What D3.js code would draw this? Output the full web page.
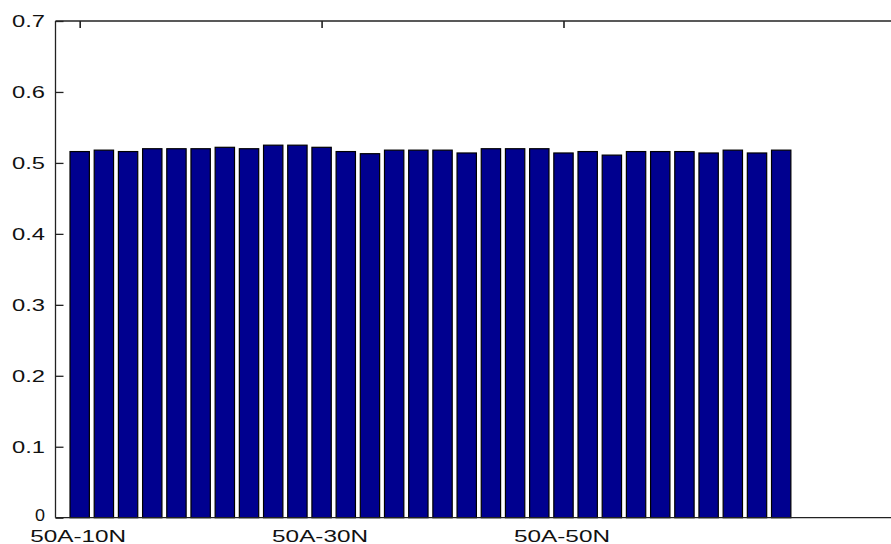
<!DOCTYPE html>
<html>
<head>
<meta charset="utf-8">
<script src="https://cdn.jsdelivr.net/npm/d3@7"></script>
<style>
  html, body { margin: 0; padding: 0; background: #fff; overflow: hidden; }
  svg { display: block; }
  text { font-family: "Liberation Sans", Arial, sans-serif; fill: #111; }
</style>
</head>
<body>
<svg id="chart" width="891" height="544"></svg>
<script>
// Data
const values = [0.516, 0.518, 0.516, 0.520, 0.520, 0.520, 0.522, 0.520, 0.525, 0.525,
                0.522, 0.516, 0.513, 0.518, 0.518, 0.518, 0.514, 0.520, 0.520, 0.520,
                0.514, 0.516, 0.511, 0.516, 0.516, 0.516, 0.514, 0.518, 0.514, 0.518];
const xTickPositions = [1, 11, 21];
const xTickLabels = ["50A-10N", "50A-30N", "50A-50N"];
const yTicks = [0, 0.1, 0.2, 0.3, 0.4, 0.5, 0.6, 0.7];
const yTickLabels = ["0", "0.1", "0.2", "0.3", "0.4", "0.5", "0.6", "0.7"];
const xLimits = [0, 40];
const yLimits = [0, 0.7];

const svg = d3.select("#chart");
const pitch = 24.19;
const plotLeft = 55.5, plotTop = 21, plotBottom = 517.7;
const x = d3.scaleLinear().domain(xLimits).range([plotLeft, plotLeft + (xLimits[1] - xLimits[0]) * pitch]);
const y = d3.scaleLinear().domain(yLimits).range([plotBottom, plotTop]);
const barW = 0.8 * (x(1) - x(0));

// Bars
svg.append("g").selectAll("rect").data(values).join("rect")
  .attr("x", (d, i) => x(i + 1) - barW / 2)
  .attr("y", d => y(d))
  .attr("width", barW)
  .attr("height", d => y(0) - y(d))
  .attr("fill", "#00008f")
  .attr("stroke", "#000")
  .attr("stroke-width", 1.2);

// Axes box (left, top, bottom)
const axisColor = "#222";
const xr = x.range();
svg.append("line").attr("x1", plotLeft).attr("x2", plotLeft).attr("y1", plotTop).attr("y2", plotBottom)
  .attr("stroke", axisColor).attr("stroke-width", 1.3);
svg.append("line").attr("x1", plotLeft).attr("x2", xr[1]).attr("y1", plotTop).attr("y2", plotTop)
  .attr("stroke", axisColor).attr("stroke-width", 1.3);
svg.append("line").attr("x1", plotLeft).attr("x2", xr[1]).attr("y1", plotBottom).attr("y2", plotBottom)
  .attr("stroke", axisColor).attr("stroke-width", 1.3);

// Y axis ticks (inward) and labels
const yAxis = d3.axisRight(y).tickValues(yTicks).tickSize(8).tickFormat("");
const gy = svg.append("g").attr("transform", `translate(${plotLeft},0)`).call(yAxis);
gy.select(".domain").remove();
gy.selectAll(".tick line").attr("stroke", axisColor).attr("stroke-width", 1.3);

svg.append("g").selectAll("text").data(yTicks).join("text")
  .attr("x", 45)
  .attr("y", d => y(d) - (d === 0 ? 2.5 : 0))
  .attr("dy", "0.36em")
  .attr("text-anchor", "end")
  .attr("font-size", d => d === 0 ? 16 : 17)
  .attr("textLength", (d, i) => yTickLabels[i].length === 1 ? 10 : 33)
  .attr("lengthAdjust", "spacingAndGlyphs")
  .text((d, i) => yTickLabels[i]);

// X axis ticks (top, inward) and labels
const xAxisTop = d3.axisBottom(x).tickValues(xTickPositions).tickSize(7).tickFormat("");
const gx = svg.append("g").attr("transform", `translate(0,${plotTop})`).call(xAxisTop);
gx.select(".domain").remove();
gx.selectAll(".tick line").attr("stroke", axisColor).attr("stroke-width", 1.6);

svg.append("g").selectAll("text").data(xTickPositions).join("text")
  .attr("x", d => x(d) - 1.5)
  .attr("y", 541.5)
  .attr("text-anchor", "middle")
  .attr("font-size", 16.5)
  .attr("textLength", 96)
  .attr("lengthAdjust", "spacingAndGlyphs")
  .text((d, i) => xTickLabels[i]);
</script>
</body>
</html>
